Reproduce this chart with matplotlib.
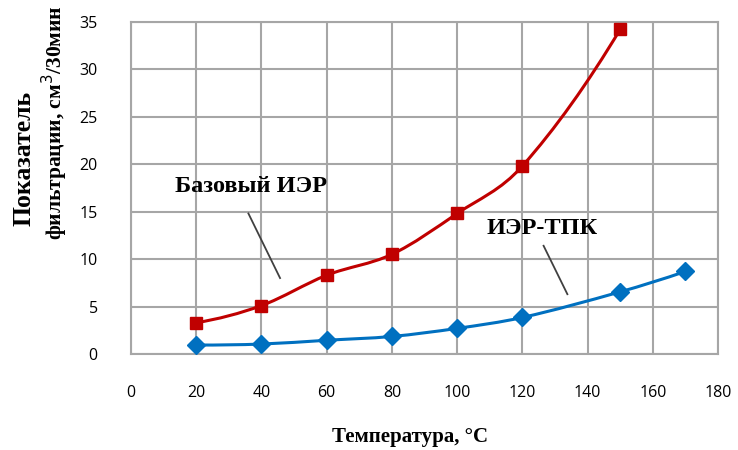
import matplotlib.pyplot as plt
from matplotlib.path import Path
from matplotlib.patches import PathPatch

# --- DATA ---
base_t = [20, 40, 60, 80, 100, 120, 150]
base_f = [3.3, 5.1, 8.3, 10.5, 14.8, 19.8, 34.2]

tpk_t = [20, 40, 60, 80, 100, 120, 150, 170]
tpk_f = [0.95, 1.05, 1.45, 1.85, 2.7, 3.85, 6.55, 8.7]

x_ticks = [0, 20, 40, 60, 80, 100, 120, 140, 160, 180]
y_ticks = [0, 5, 10, 15, 20, 25, 30, 35]

RED = '#c00000'
BLUE = '#0070c0'
GRID = '#a6a6a6'


def smooth_path(xs, ys):
    """Smoothed line like Excel: cubic Hermite segments through the points."""
    n = len(xs)
    m = []
    for i in range(n):
        if 0 < i < n - 1:
            m.append((ys[i + 1] - ys[i - 1]) / (xs[i + 1] - xs[i - 1]))
        else:
            m.append(None)
    s0 = (ys[1] - ys[0]) / (xs[1] - xs[0])
    s1 = (ys[-1] - ys[-2]) / (xs[-1] - xs[-2])
    m[0] = 2 * s0 - m[1] if n > 2 else s0
    m[-1] = 2 * s1 - m[-2] if n > 2 else s1
    verts = [(xs[0], ys[0])]
    codes = [Path.MOVETO]
    for i in range(n - 1):
        dx = xs[i + 1] - xs[i]
        verts += [(xs[i] + dx / 3, ys[i] + m[i] * dx / 3),
                  (xs[i + 1] - dx / 3, ys[i + 1] - m[i + 1] * dx / 3),
                  (xs[i + 1], ys[i + 1])]
        codes += [Path.CURVE4] * 3
    return Path(verts, codes)


fig = plt.figure(figsize=(7.38, 4.5), dpi=100)
ax = fig.add_axes([0.1775, 0.2133, 0.7955, 0.7385])

ax.set_xlim(0, 180)
ax.set_ylim(0, 35)
ax.set_xticks(x_ticks)
ax.set_yticks(y_ticks)
ax.grid(True, color=GRID, linewidth=1.5)
ax.set_axisbelow(True)
for s in ax.spines.values():
    s.set_color(GRID)
    s.set_linewidth(1.5)
ax.tick_params(length=0, labelsize=11.5, colors='black')
ax.tick_params(axis='x', pad=22.5)
ax.tick_params(axis='y', pad=24)
for lbl in ax.get_xticklabels() + ax.get_yticklabels():
    lbl.set_family('Open Sans')

ax.add_patch(PathPatch(smooth_path(base_t, base_f), fill=False,
                       edgecolor=RED, linewidth=2.2, zorder=3))
ax.plot(base_t, base_f, linestyle='none', marker='s', markersize=9,
        color=RED, zorder=4)

ax.add_patch(PathPatch(smooth_path(tpk_t, tpk_f), fill=False,
                       edgecolor=BLUE, linewidth=2.2, zorder=3))
ax.plot(tpk_t, tpk_f, linestyle='none', marker='D', markersize=9,
        color=BLUE, zorder=4)

# labels with leader lines
ax.text(13.5, 17.6, 'Базовый ИЭР', family='Liberation Serif', fontsize=17.5,
        fontweight='bold', ha='left', va='center')
ax.plot([36, 45.7], [14.8, 8.0], color='#404040', linewidth=1.3, zorder=2)
ax.text(109, 13.2, 'ИЭР-ТПК', family='Liberation Serif', fontsize=17.5,
        fontweight='bold', ha='left', va='center')
ax.plot([126.5, 133.8], [11.4, 6.3], color='#404040', linewidth=1.3, zorder=2)

fig.text(0.556, 0.029, 'Температура, °С', family='Liberation Serif',
         fontsize=15, fontweight='bold', ha='center', va='center')
fig.text(0.033, 0.649, 'Показатель', family='Liberation Serif', fontsize=18.5,
         fontweight='bold', rotation=90, ha='center', va='center')
fig.text(0.074, 0.727, 'фильтрации, см$^3$/30мин', family='Liberation Serif',
         fontsize=15.5, fontweight='bold', rotation=90, ha='center', va='center')

fig.savefig('out.png', dpi=100)
